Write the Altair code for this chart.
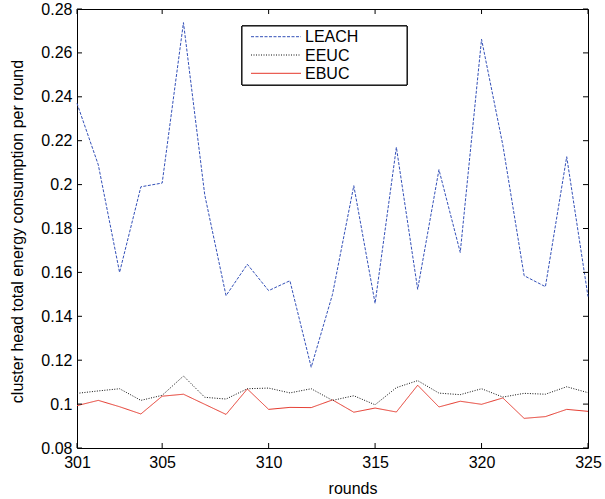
import altair as alt
import pandas as pd

rounds = list(range(301, 326))
leach = [0.237, 0.209, 0.160, 0.199, 0.2007, 0.2738, 0.1953, 0.1494, 0.1637, 0.1517,
         0.1562, 0.1168, 0.150, 0.1995, 0.1459, 0.217, 0.1523, 0.2068, 0.1691, 0.2662,
         0.218, 0.1585, 0.1535, 0.2127, 0.149]
eeuc = [0.1049, 0.106, 0.107, 0.1017, 0.104, 0.1128, 0.1031, 0.1023, 0.107, 0.1073,
        0.1051, 0.107, 0.1017, 0.1038, 0.0997, 0.1075, 0.1107, 0.105, 0.1043, 0.107,
        0.1032, 0.1049, 0.1045, 0.1079, 0.1052]
ebuc = [0.0993, 0.1017, 0.0988, 0.0955, 0.1036, 0.1045, 0.0999, 0.0953, 0.1069, 0.0976,
        0.0985, 0.0984, 0.1019, 0.0963, 0.0982, 0.0964, 0.1086, 0.0987, 0.1013, 0.0999,
        0.1028, 0.0935, 0.0943, 0.0976, 0.0967]

series_names = ["LEACH", "EEUC", "EBUC"]
x_ticks = [301, 305, 310, 315, 320, 325]
y_ticks = [0.08, 0.10, 0.12, 0.14, 0.16, 0.18, 0.20, 0.22, 0.24, 0.26, 0.28]

W, H = 511, 439
FONT = "Liberation Sans"
colors = {"LEACH": "#3350b8", "EEUC": "#111111", "EBUC": "#e5372b"}
dashes = {"LEACH": [3, 1.5], "EEUC": [1, 1.5], "EBUC": [1, 0]}

xscale = alt.Scale(domain=[301, 325], nice=False, zero=False)
yscale = alt.Scale(domain=[0.08, 0.28], nice=False, zero=False)

df = pd.DataFrame({"round": rounds, "LEACH": leach, "EEUC": eeuc, "EBUC": ebuc})

def series_layer(name, with_axes=False):
    if with_axes:
        x = alt.X("round:Q", scale=xscale, title="rounds",
                  axis=alt.Axis(values=x_ticks, format="d", labelFlush=False,
                                labelPadding=6, ticks=False, domain=False, grid=False,
                                labelFont=FONT, labelFontSize=16, labelColor="black",
                                titleFont=FONT, titleFontSize=16, titleFontWeight="normal",
                                titleColor="black",
                                titleX=275.5, titleY=45, titleBaseline="alphabetic",
                                titleAnchor="start", titleAlign="center"))
        y = alt.Y(f"{name}:Q", scale=yscale,
                  title="cluster head total energy consumption per round",
                  axis=alt.Axis(values=y_ticks, format=".2~f", labelPadding=5,
                                ticks=False, domain=False, grid=False,
                                labelFont=FONT, labelFontSize=16, labelColor="black",
                                titleFont=FONT, titleFontSize=16, titleFontWeight="normal",
                                titleColor="black",
                                titleX=-60, titleY=222, titleAngle=-90,
                                titleBaseline="middle", titleAlign="center"))
    else:
        x = alt.X("round:Q", scale=xscale)
        y = alt.Y(f"{name}:Q", scale=yscale)
    return alt.Chart(df).mark_line(
        color=colors[name], strokeDash=dashes[name], strokeWidth=1
    ).encode(x=x, y=y)

layers = [series_layer("EBUC", True), series_layer("EEUC"), series_layer("LEACH")]

# inward tick marks on all four sides
xt = pd.DataFrame({"t": x_ticks})
yt = pd.DataFrame({"t": y_ticks})
tick_style = dict(color="black", strokeWidth=1)
layers += [
    alt.Chart(xt).mark_rule(**tick_style).encode(
        x=alt.X("t:Q", scale=xscale), y=alt.value(H), y2=alt.value(H - 5)),
    alt.Chart(xt).mark_rule(**tick_style).encode(
        x=alt.X("t:Q", scale=xscale), y=alt.value(0), y2=alt.value(5)),
    alt.Chart(yt).mark_rule(**tick_style).encode(
        y=alt.Y("t:Q", scale=yscale), x=alt.value(0), x2=alt.value(5)),
    alt.Chart(yt).mark_rule(**tick_style).encode(
        y=alt.Y("t:Q", scale=yscale), x=alt.value(W), x2=alt.value(W - 5)),
]

# legend box
leg = pd.DataFrame({"name": series_names})
layers.append(
    alt.Chart(leg).mark_rect(fill="white", stroke="black", strokeWidth=1).encode(
        x=alt.value(165), x2=alt.value(330), y=alt.value(17), y2=alt.value(76))
)
row_y = [27.7, 46.0, 64.3]
for name, ry in zip(series_names, row_y):
    sub = pd.DataFrame({"name": [name]})
    layers.append(
        alt.Chart(sub).mark_rule(color=colors[name], strokeDash=dashes[name],
                                 strokeWidth=1).encode(
            x=alt.value(174), x2=alt.value(224), y=alt.value(ry))
    )
    layers.append(
        alt.Chart(sub).mark_text(align="left", baseline="middle", font=FONT,
                                 fontSize=16, color="black").encode(
            x=alt.value(228), y=alt.value(ry + 0.5), text="name:N")
    )

chart = alt.layer(*layers).properties(
    width=W, height=H,
    background="white",
    padding={"left": 77, "top": 9, "right": 17, "bottom": 51},
    autosize=alt.AutoSizeParams(type="none"),
).configure_view(
    stroke="black", strokeWidth=1
)

chart.save("out.html", embed_options={"renderer": "svg", "actions": False})
